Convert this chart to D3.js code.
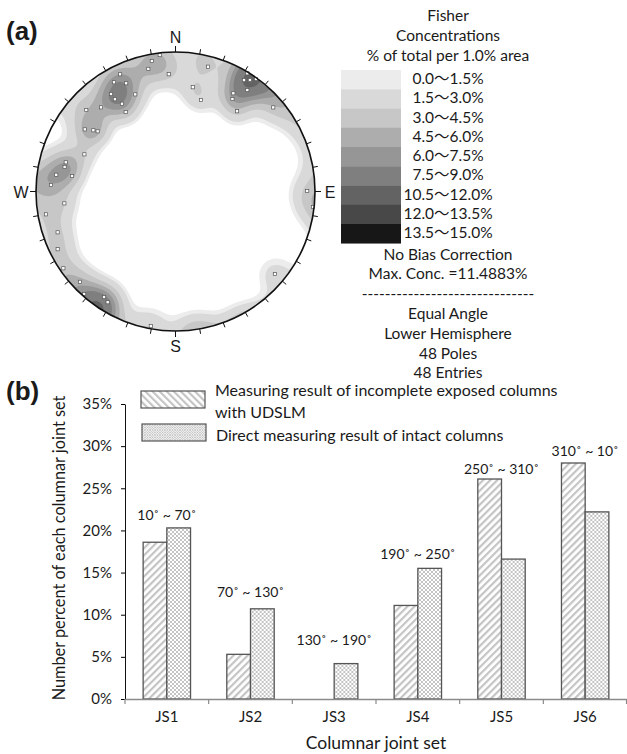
<!DOCTYPE html>
<html>
<head>
<meta charset="utf-8">
<script src="https://cdn.jsdelivr.net/npm/d3@7"></script>
<style>
  body { margin: 0; background: #fff; }
  text { font-family: Lato, "Noto Sans CJK SC", sans-serif; fill: #1a1a1a; }
  .panel { font-family: "Liberation Sans", Arial, sans-serif; font-weight: bold; }
  .compass { font-family: "Liberation Sans", Arial, sans-serif; }
</style>
</head>
<body>
<script>
// ---- (a) stereonet data: poles (trend, plunge in degrees)
const poleTrend = [353.4, 349.7, 347.5, 356.7, 334.7, 330.6, 335.5, 326.5, 326.7, 328.6,
  337.5, 327.9, 318.5, 312.4, 304.4, 306.7, 307.7, 292.2, 284.9, 282.5,
  278.0, 278.5, 273.0, 263.9, 260.0, 250.9, 243.9, 235.6, 226.6, 221.7,
  211.5, 190.4, 14.6, 9.4, 15.6, 31.3, 35.6, 35.3, 30.5, 31.6,
  37.5, 49.3, 89.8, 129.7, 33.7, 214.1, 96.4, 31.6];
const polePlunge = [0.9, 2.9, 6.0, 9.8, 4.2, 6.1, 9.1, 10.1, 13.3, 17.2,
  16.0, 22.2, 12.3, 8.2, 13.5, 17.4, 19.6, 19.6, 11.7, 11.7,
  8.4, 16.3, 6.4, 12.6, 3.4, 6.4, 3.5, 1.5, 3.4, 0.9,
  4.1, 1.1, 4.5, 15.7, 21.5, 0.5, 0.5, 6.6, 11.5, 14.2,
  18.1, 4.5, 3.3, 4.4, 2.3, 5.2, 0.5, 3.7];
const fisherK = 85;
const minShown = 0.95;   // density below this is left white

const legendLo = [0, 1.5, 3, 4.5, 6, 7.5, 10.5, 12, 13.5];
const legendHi = [1.5, 3, 4.5, 6, 7.5, 9, 12, 13.5, 15];
const legendColor = ["#ececec", "#d9d9d9", "#c7c7c7", "#adadad", "#969696", "#7f7f7f", "#636363", "#484848", "#171717"];
const titleLines = ["Fisher", "Concentrations", "% of total per 1.0% area"];
const noteLines = ["No Bias Correction", "Max. Conc. =11.4883%", "------------------------------",
  "Equal Angle", "Lower Hemisphere", "48 Poles", "48 Entries"];
const compass = [["N", 0], ["E", 90], ["S", 180], ["W", 270]];

// ---- (b) bar chart data
const sets = ["JS1", "JS2", "JS3", "JS4", "JS5", "JS6"];
const ranges = ["10˚ ~ 70˚", "70˚ ~ 130˚", "130˚ ~ 190˚", "190˚ ~ 250˚", "250˚ ~ 310˚", "310˚ ~ 10˚"];
const udslm = [18.6, 5.3, 0, 11.1, 26.1, 28.0];
const intact = [20.3, 10.7, 4.2, 15.5, 16.6, 22.2];
const yTicks = [0, 5, 10, 15, 20, 25, 30, 35];
const seriesNames = ["Measuring result of incomplete exposed columns", "Direct measuring result of intact columns"];

const W = 627, H = 754;
const svg = d3.select("body").append("svg").attr("width", W).attr("height", H);
svg.append("rect").attr("width", W).attr("height", H).attr("fill", "#fff");

const defs = svg.append("defs");
function stripes(id, angle, size, bar, color) {
  const p = defs.append("pattern").attr("id", id).attr("patternUnits", "userSpaceOnUse")
    .attr("width", size).attr("height", size).attr("patternTransform", `rotate(${angle})`);
  p.append("rect").attr("width", size).attr("height", size).attr("fill", "#fff");
  p.append("rect").attr("width", bar).attr("height", size).attr("fill", color);
}
function mesh(id, size, color, w) {
  const p = defs.append("pattern").attr("id", id).attr("patternUnits", "userSpaceOnUse")
    .attr("width", size).attr("height", size);
  p.append("rect").attr("width", size).attr("height", size).attr("fill", "#fff");
  p.append("path").attr("d", `M0,0L${size},${size}M${size},0L0,${size}`)
    .attr("stroke", color).attr("stroke-width", w).attr("fill", "none");
}
stripes("hatch", 45, 5, 2.2, "#c4c4c4");
stripes("hatchLeg", -45, 5, 2.2, "#c4c4c4");
mesh("cross", 4, "#939393", 0.55);
mesh("crossLeg", 2.5, "#a0a0a0", 0.5);

// ================= (a) =================
svg.append("text").attr("class", "panel").attr("x", 6).attr("y", 40).attr("font-size", 26).text("(a)");

const cx = 175.5, cy = 191.5, R = 139.5;
const rad = Math.PI / 180;
const poles = poleTrend.map((t, i) => {
  const p = polePlunge[i] * rad, a = t * rad;
  return [Math.cos(p) * Math.sin(a), Math.cos(p) * Math.cos(a), Math.sin(p)];
});

// Fisher density, in % of total per 1% area, on a pixel grid (equal angle, lower hemisphere)
const step = 1.5, half = R + 6, m = Math.ceil(2 * half / step) + 1;
const norm = fisherK / (1 - Math.exp(-2 * fisherK)) / poles.length;
const grid = new Float64Array(m * m);
for (let j = 0; j < m; j++) {
  for (let i = 0; i < m; i++) {
    const u = (i * step - half) / R, v = (half - j * step) / R;
    const q = 1 + u * u + v * v;
    const e0 = 2 * u / q, e1 = 2 * v / q, e2 = (2 - q) / q;
    let s = 0;
    for (const p of poles) {
      const c = e0 * p[0] + e1 * p[1] + e2 * p[2];
      s += Math.exp(fisherK * (c - 1)) + Math.exp(fisherK * (-c - 1));
    }
    grid[j * m + i] = norm * s;
  }
}
const levels = legendLo.map((d, i) => i === 0 ? minShown : d);
const contours = d3.contours().size([m, m]).thresholds(levels)(grid);
const toPx = d3.geoPath(d3.geoTransform({
  point(x, y) { this.stream.point(cx - half + (x - 0.5) * step, cy - half + (y - 0.5) * step); }
}));
const color = d3.scaleThreshold().domain(levels.slice(1)).range(legendColor);

defs.append("clipPath").attr("id", "net").append("circle").attr("cx", cx).attr("cy", cy).attr("r", R);
const net = svg.append("g");
net.append("g").attr("clip-path", "url(#net)")
  .selectAll("path").data(contours).join("path")
  .attr("d", toPx).attr("fill", d => color(d.value));

// pole markers
const proj = (t, p) => {
  const r = Math.tan((90 - p) / 2 * rad) * R;
  return [cx + r * Math.sin(t * rad), cy - r * Math.cos(t * rad)];
};
net.append("g").selectAll("rect").data(poleTrend).join("rect")
  .each(function (t, i) {
    const [px, py] = proj(t, polePlunge[i]);
    d3.select(this).attr("x", px - 1.6).attr("y", py - 1.6);
  })
  .attr("width", 3.2).attr("height", 3.2).attr("fill", "#fff").attr("stroke", "#555").attr("stroke-width", 0.7);

net.append("circle").attr("cx", cx).attr("cy", cy).attr("r", R)
  .attr("fill", "none").attr("stroke", "#111").attr("stroke-width", 1.6);

net.append("g").selectAll("line").data(d3.range(0, 360, 10)).join("line")
  .attr("x1", d => cx + R * Math.sin(d * rad)).attr("y1", d => cy - R * Math.cos(d * rad))
  .attr("x2", d => cx + (R + (d % 90 ? 5 : 6)) * Math.sin(d * rad))
  .attr("y2", d => cy - (R + (d % 90 ? 5 : 6)) * Math.cos(d * rad))
  .attr("stroke", "#111").attr("stroke-width", 1);

net.append("g").selectAll("text").data(compass).join("text")
  .attr("class", "compass").attr("font-size", 16)
  .attr("x", d => cx + (R + 15) * Math.sin(d[1] * rad))
  .attr("y", d => cy - (R + 15) * Math.cos(d[1] * rad) + 6)
  .attr("text-anchor", "middle").text(d => d[0]);

// legend
const lg = svg.append("g").attr("font-size", 15.5);
lg.selectAll(".t").data(titleLines).join("text").attr("class", "t")
  .attr("x", 448).attr("y", (d, i) => 21 + i * 20).attr("text-anchor", "middle").text(d => d);
const rowH = 19.25, legTop = 70;
lg.selectAll(".sw").data(legendColor).join("rect").attr("class", "sw")
  .attr("x", 341).attr("y", (d, i) => legTop + i * rowH).attr("width", 60).attr("height", rowH + 0.3)
  .attr("fill", d => d);
lg.selectAll(".lab").data(legendLo).join("text").attr("class", "lab")
  .attr("x", 448).attr("y", (d, i) => legTop + i * rowH + 14).attr("text-anchor", "middle")
  .text((d, i) => `${d.toFixed(1)}～${legendHi[i].toFixed(1)}%`);
lg.selectAll(".n").data(noteLines).join("text").attr("class", "n")
  .attr("x", 448).attr("y", (d, i) => 259.5 + i * 19.8).attr("text-anchor", "middle").text(d => d);

// ================= (b) =================
svg.append("text").attr("class", "panel").attr("x", 6).attr("y", 400).attr("font-size", 26).text("(b)");

const x = d3.scaleBand().domain(sets).range([125, 627]);
const x1 = d3.scaleBand().domain([0, 1]).range([0, x.bandwidth()]).paddingOuter(0.765);
const y = d3.scaleLinear().domain([0, 35]).range([699, 404]);

const chart = svg.append("g");
const groups = chart.selectAll(".grp").data(sets).join("g").attr("class", "grp")
  .attr("transform", d => `translate(${x(d)},0)`);
groups.append("rect").attr("x", x1(0)).attr("width", x1.bandwidth())
  .attr("y", (d, i) => y(udslm[i])).attr("height", (d, i) => y(0) - y(udslm[i]))
  .attr("fill", "url(#hatch)").attr("stroke", (d, i) => udslm[i] > 0 ? "#555" : "none").attr("stroke-width", 1.3);
groups.append("rect").attr("x", x1(1)).attr("width", x1.bandwidth())
  .attr("y", (d, i) => y(intact[i])).attr("height", (d, i) => y(0) - y(intact[i]))
  .attr("fill", "url(#cross)").attr("stroke", "#555").attr("stroke-width", 1.3);

const labelGap = [13, 17, 24, 14, 10, 12];
groups.append("text").attr("font-size", 14).attr("text-anchor", "middle")
  .attr("x", x.bandwidth() / 2)
  .attr("y", (d, i) => y(Math.max(udslm[i], intact[i])) - labelGap[i] + 5)
  .text((d, i) => ranges[i]);

// y axis
const ya = chart.append("g").attr("transform", "translate(125,0)")
  .call(d3.axisLeft(y).tickValues(yTicks).tickFormat(d => d + "%").tickSize(4).tickSizeOuter(0).tickPadding(9));
ya.select(".domain").attr("stroke", "#111");
ya.selectAll("text").attr("font-size", 15).attr("font-family", "Lato").attr("fill", "#1a1a1a");

// x axis
const xa = chart.append("g").attr("transform", "translate(0,699)")
  .call(d3.axisBottom(x).tickSize(0).tickPadding(12).tickSizeOuter(0));
xa.select(".domain").attr("stroke", "#8a8a8a").attr("stroke-width", 1.5);
xa.selectAll("text").attr("font-size", 15).attr("font-family", "Lato").attr("fill", "#1a1a1a");
xa.selectAll(".bound").data(sets.map(d => x(d)).concat([x.range()[1] - 0.5])).join("line")
  .attr("class", "bound").attr("x1", d => d).attr("x2", d => d).attr("y1", 0).attr("y2", 5)
  .attr("stroke", "#8a8a8a").attr("stroke-width", 1.2);

chart.append("text").attr("x", (125 + 627) / 2).attr("y", 749).attr("text-anchor", "middle")
  .attr("font-size", 17.5).text("Columnar joint set");
chart.append("text").attr("transform", "translate(65,548) rotate(-90)").attr("text-anchor", "middle")
  .attr("font-size", 16.3).text("Number percent of each columnar joint set");

// legend
const bl = chart.append("g").attr("font-size", 16);
bl.append("rect").attr("x", 141).attr("y", 391).attr("width", 64).attr("height", 17)
  .attr("fill", "url(#hatchLeg)").attr("stroke", "#555").attr("stroke-width", 1.2);
bl.append("rect").attr("x", 142).attr("y", 424).attr("width", 64).attr("height", 17)
  .attr("fill", "url(#crossLeg)").attr("stroke", "#555").attr("stroke-width", 1.2);
bl.append("text").attr("x", 215).attr("y", 396).text(seriesNames[0]);
bl.append("text").attr("x", 215).attr("y", 417.5).text("with UDSLM");
bl.append("text").attr("x", 216).attr("y", 440.5).text(seriesNames[1]);
</script>
</body>
</html>
